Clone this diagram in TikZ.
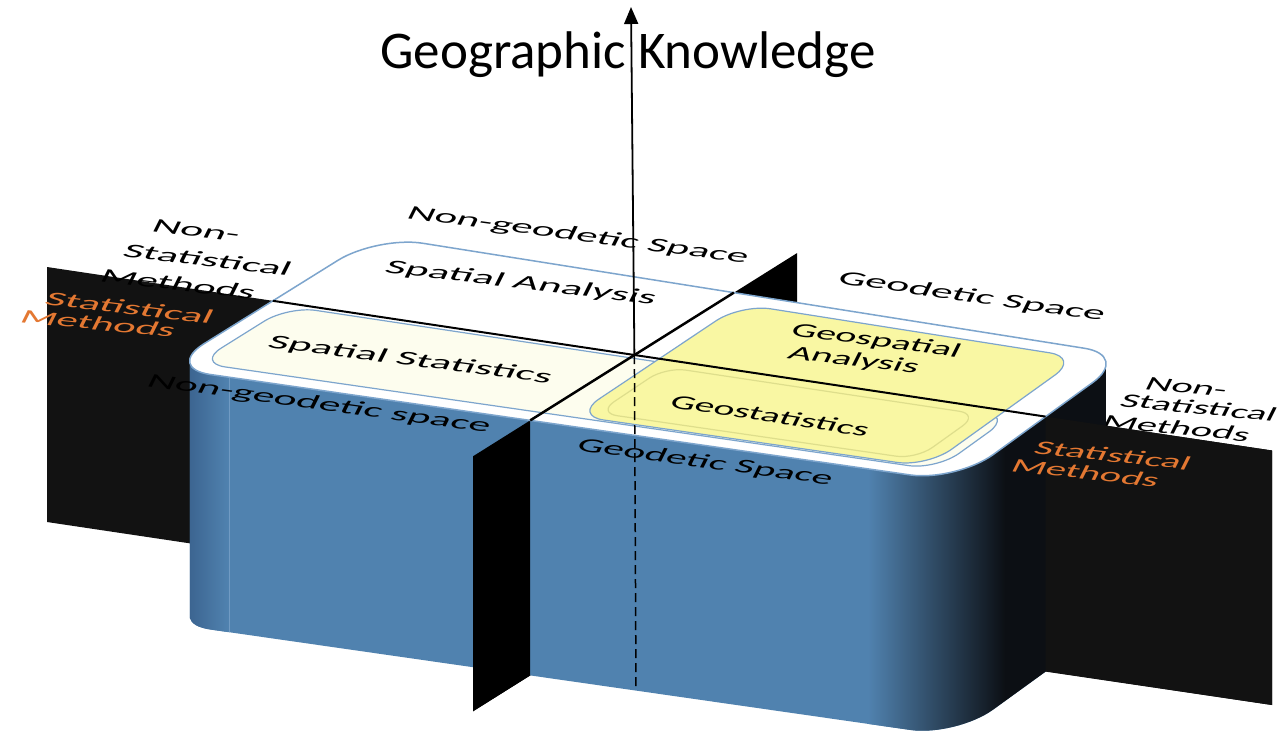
\documentclass[tikz,border=0pt]{standalone}
\usepackage{fontspec}
\setmainfont{Carlito}
\usetikzlibrary{calc,arrows.meta}

\definecolor{boxblue}{RGB}{80,130,175}
\definecolor{boxedge}{RGB}{58,98,142}
\definecolor{boxhi}{RGB}{128,166,204}
\definecolor{boxmid}{RGB}{40,68,100}
\definecolor{sideface}{RGB}{12,15,20}
\definecolor{planegray}{RGB}{18,18,18}
\definecolor{rimblue}{RGB}{125,165,205}
\definecolor{creamfill}{RGB}{253,253,238}
\definecolor{yellowfill}{RGB}{249,247,163}
\definecolor{yellowline}{RGB}{222,222,140}
\definecolor{labelorange}{RGB}{228,120,50}

% outline of the top face, lowered by #1
\newcommand\facepath[1]{($(FL)!0.5!(FR)+(0,#1)$) -- ($(FR)+(0,#1)$) -- ($(BR)+(0,#1)$) -- ($(BL)+(0,#1)$) -- ($(FL)+(0,#1)$) -- cycle}
% point of the top face at fractions (#2 across, #3 back)
\newcommand\topcoord[3]{%
  \coordinate (#1f) at ($(FL)!#2!(FR)$);
  \coordinate (#1b) at ($(BL)!#2!(BR)$);
  \coordinate (#1) at ($(#1f)!#3!(#1b)$);}
% closed quadrilateral through four named points
\newcommand\quadpath[4]{($(#1)!0.5!(#2)$) -- (#2) -- (#3) -- (#4) -- (#1) -- cycle}

\begin{document}
\begin{tikzpicture}[x=1pt,y=-1pt,
  lbl/.style={font=\fontsize{20}{24}\selectfont, inner sep=0pt, anchor=base west},
  orange/.style={lbl, text=labelorange},
  divider/.style={line width=2pt, black},
]
\useasboundingbox (0,0) rectangle (1281,731);
\fill[white] (0,0) rectangle (1281,731);

% corners of the top face
\coordinate (FL) at (165,368);
\coordinate (FR) at (956,481.5);
\coordinate (BR) at (1130,355.5);
\coordinate (BL) at (377,236);

% plane dividing statistical / non-statistical methods
\coordinate (uTL) at (47,267);
\coordinate (uTR) at (1272,450.5);
\coordinate (uBR) at (1272,705);
\coordinate (uBL) at (47,522);
\fill[planegray] (uTL) -- (uTR) -- (uBR) -- (uBL) -- cycle;

% plane dividing geodetic / non-geodetic space
\coordinate (vTF) at (473,456.3);
\coordinate (vTB) at (797,253.1);
\coordinate (vBB) at (797,508.1);
\coordinate (vBF) at (473,711.3);
\fill[black] (vTF) -- (vTB) -- (vBB) -- (vBF) -- cycle;

% labels around the box
\node[lbl, cm={2.15,-0.26,0.475,0.95,(0,0)}] (nsm1) at (150,231) {Non-};
\node[lbl, cm={2.15,-0.26,0.475,0.95,(0,0)}] (nsm2) at (121,256) {Statistical};
\node[lbl, cm={2.1,-0.25,0.475,0.95,(0,0)}] (nsm3) at (98,281) {Methods};
\node[orange, cm={2.15,-0.26,0.475,0.95,(0,0)}] (sm1) at (43,304) {Statistical};
\node[orange, cm={2.1,-0.21,0.475,0.95,(0,0)}] (sm2) at (18,322) {Methods};
\node[lbl, cm={2.1,-0.28,0.475,0.95,(0,0)}] (ngs) at (405,218) {Non-geodetic Space};
\node[lbl, cm={2.12,-0.30,0.475,0.95,(0,0)}] (gs) at (836,283) {Geodetic Space};
\node[lbl, cm={2.0,-0.2,0.475,0.95,(0,0)}] (nsr1) at (1143,389) {Non-};
\node[lbl, cm={2.0,-0.2,0.475,0.95,(0,0)}] (nsr2) at (1118,406) {Statistical};
\node[lbl, cm={2.0,-0.2,0.475,0.95,(0,0)}] (nsr3) at (1100,427) {Methods};

% body of the box
\begin{scope}
  \clip[rounded corners=46pt] \foreach \h in {0,3,...,255} {\facepath{\h}};
  \fill[boxblue] (150,200) rectangle (1200,745);
  \shade[left color=boxedge, right color=boxblue] (186,200) rectangle (228,745);
  \draw[boxhi, line width=1pt, opacity=0.7] (229,300) -- (229,745);
  \shade[left color=boxblue, middle color=boxmid, right color=sideface] (868,200) rectangle (1005,745);
  \fill[sideface] (1005,200) rectangle (1200,745);
\end{scope}

% divider planes in front of the box
\coordinate (uM1) at (1045.6,416.6);
\coordinate (uM2) at (1045.6,671.6);
\fill[planegray] (uM1) -- (uTR) -- (uBR) -- (uM2) -- cycle;
\coordinate (vMT) at (530.2,420.4);
\coordinate (vMB) at (530.2,675.4);
\fill[black] (vMT) -- (vTF) -- (vBF) -- (vMB) -- cycle;
\node[orange, cm={2.0,-0.22,0.475,0.95,(0,0)}] (smr1) at (1032,453) {Statistical};
\node[orange, cm={2.0,-0.22,0.475,0.95,(0,0)}] (smr2) at (1009,471) {Methods};

% top face
\filldraw[fill=white, draw=rimblue, line width=1.5pt, rounded corners=46pt] \facepath{0};

\topcoord{sA}{0.025}{0.06}
\topcoord{sB}{0.962}{0.06}
\topcoord{sC}{0.962}{0.49}
\topcoord{sD}{0.025}{0.49}
\filldraw[fill=creamfill, draw=rimblue, line width=1.2pt, rounded corners=28pt] \quadpath{sA}{sB}{sC}{sD};

\topcoord{yA}{0.50}{0.07}
\topcoord{yB}{0.948}{0.07}
\topcoord{yC}{0.948}{0.935}
\topcoord{yD}{0.50}{0.935}
\filldraw[fill=yellowfill, draw=rimblue, line width=1.2pt, rounded corners=30pt] \quadpath{yA}{yB}{yC}{yD};

\topcoord{gA}{0.52}{0.11}
\topcoord{gB}{0.925}{0.11}
\topcoord{gC}{0.925}{0.465}
\topcoord{gD}{0.52}{0.465}
\draw[yellowline, line width=1.2pt, rounded corners=20pt] \quadpath{gA}{gB}{gC}{gD};

% dividing lines on the top face
\coordinate (uL) at (272.8,300.8);
\coordinate (uR) at (1045.6,416.6);
\coordinate (vF) at (530.2,420.4);
\coordinate (vB) at (733.9,292.6);
\coordinate (ctr) at (634.4,355.0);
\draw[divider] (uL) -- (uR);
\draw[divider, line width=2.5pt] (vF) -- (vB);

% region names
\node[lbl, cm={2.17,-0.26,0.475,0.95,(0,0)}] (sa) at (383,272) {Spatial Analysis};
\node[lbl, cm={2.17,-0.28,0.475,0.95,(0,0)}] (sst) at (266,347) {Spatial Statistics};
\node[lbl, cm={1.95,-0.26,0.475,0.95,(0,0)}] (ga1) at (789,335) {Geospatial};
\node[lbl, cm={1.98,-0.24,0.475,0.95,(0,0)}] (ga2) at (786,358) {Analysis};
\node[lbl, cm={1.92,-0.29,0.475,0.95,(0,0)}] (gst) at (668,407) {Geostatistics};

% labels on the front of the box
\node[lbl, cm={2.13,-0.29,0.475,0.95,(0,0)}] (ngsf) at (145,386) {Non-geodetic space};
\node[lbl, cm={2.03,-0.28,0.475,0.95,(0,0)}] (gsf) at (575,450) {Geodetic Space};

% knowledge axis
\coordinate (atop) at (631,7);
\coordinate (dbot) at (636,690);
\draw[line width=1.5pt, dash pattern=on 9pt off 5pt] (ctr) -- (dbot);
\draw[line width=1.8pt, -{Triangle[length=17pt,width=14pt]}] (ctr) -- (atop);
\node[font=\fontsize{53}{60}\selectfont, inner sep=0pt, anchor=base] (title) at (628,68) {Geographic Knowledge};
\end{tikzpicture}
\end{document}
